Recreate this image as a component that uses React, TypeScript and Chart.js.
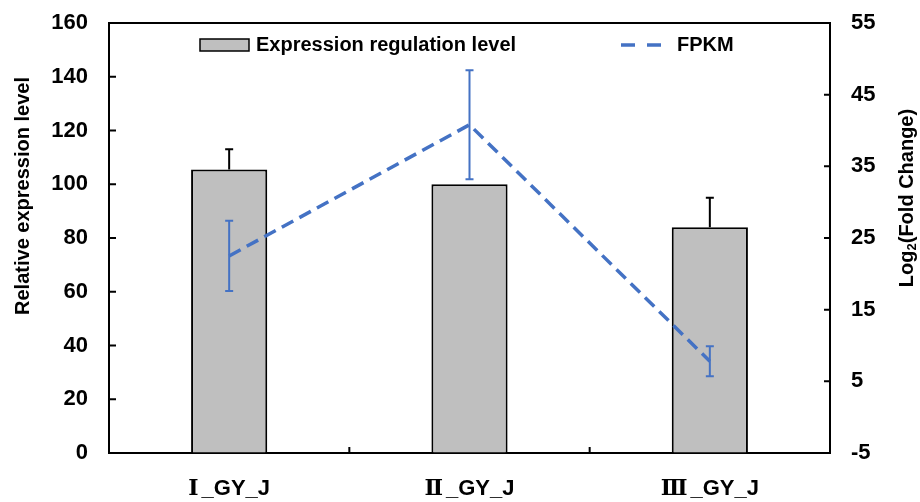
import React, { useEffect, useRef } from 'react';
import { Chart, registerables } from 'chart.js';

Chart.register(...registerables);

const categories = ['Ⅰ_GY_J', 'Ⅱ_GY_J', 'Ⅲ_GY_J'];
const expressionLevel = [105.5, 100, 84];
const expressionErr = [7.5, 0, 11];
const fpkm = [22.5, 40.8, 7.8];
const fpkmErr = [4.9, 7.6, 2.1];
const leftTicks = [0, 20, 40, 60, 80, 100, 120, 140, 160];
const rightTicks = [-5, 5, 15, 25, 35, 45, 55];

const FONT = "'Liberation Sans', Arial, Helvetica, sans-serif";
const SERIF = "'DejaVu Serif', 'Liberation Serif', serif";
const BLUE = '#4472C4';

const decorPlugin = {
  id: 'decor',
  afterDatasetsDraw(chart: any) {
    const ctx = chart.ctx;
    const x = chart.scales.x;
    const y = chart.scales.y;
    const y1 = chart.scales.y1;
    ctx.save();
    ctx.strokeStyle = '#000';
    ctx.lineWidth = 2;
    expressionLevel.forEach((v, i) => {
      const e = expressionErr[i];
      if (!e) return;
      const cx = x.getPixelForValue(i);
      const top = y.getPixelForValue(v + e);
      const base = y.getPixelForValue(v);
      ctx.beginPath();
      ctx.moveTo(cx, base);
      ctx.lineTo(cx, top);
      ctx.moveTo(cx - 4, top);
      ctx.lineTo(cx + 4, top);
      ctx.stroke();
    });
    ctx.strokeStyle = BLUE;
    ctx.lineWidth = 2;
    fpkm.forEach((v, i) => {
      const e = fpkmErr[i];
      const cx = x.getPixelForValue(i);
      const top = y1.getPixelForValue(v + e);
      const bot = y1.getPixelForValue(v - e);
      ctx.beginPath();
      ctx.moveTo(cx, bot);
      ctx.lineTo(cx, top);
      ctx.moveTo(cx - 4, top);
      ctx.lineTo(cx + 4, top);
      ctx.moveTo(cx - 4, bot);
      ctx.lineTo(cx + 4, bot);
      ctx.stroke();
    });
    ctx.restore();
  },
  afterDraw(chart: any) {
    const ctx = chart.ctx;
    const x = chart.scales.x;
    const y = chart.scales.y;
    const y1 = chart.scales.y1;
    const area = chart.chartArea;
    ctx.save();
    ctx.strokeStyle = '#000';
    ctx.lineWidth = 2;
    ctx.beginPath();
    ctx.moveTo(area.left - 1, area.top);
    ctx.lineTo(area.right + 1, area.top);
    ctx.stroke();
    ctx.beginPath();
    leftTicks.forEach((v) => {
      const py = y.getPixelForValue(v);
      ctx.moveTo(area.left, py);
      ctx.lineTo(area.left + 7, py);
    });
    rightTicks.forEach((v) => {
      const py = y1.getPixelForValue(v);
      ctx.moveTo(area.right, py);
      ctx.lineTo(area.right - 6, py);
    });
    for (let i = 1; i < categories.length; i++) {
      const px = (x.getPixelForValue(i - 1) + x.getPixelForValue(i)) / 2;
      ctx.moveTo(px, area.bottom);
      ctx.lineTo(px, area.bottom - 6);
    }
    ctx.stroke();

    // category labels (numeral in serif, rest in sans)
    ctx.fillStyle = '#000';
    ctx.textBaseline = 'middle';
    ctx.textAlign = 'left';
    const numFont = `bold 22px ${SERIF}`;
    const restFont = `bold 22px ${FONT}`;
    categories.forEach((lab, i) => {
      const num = lab.charAt(0);
      const rest = lab.slice(1);
      ctx.font = numFont;
      const wn = ctx.measureText(num).width;
      ctx.font = restFont;
      const wr = ctx.measureText(rest).width;
      const gap = 3;
      let sx = x.getPixelForValue(i) - (wn + gap + wr) / 2;
      ctx.font = numFont;
      ctx.fillText(num, sx, 489);
      sx += wn + gap;
      ctx.font = restFont;
      ctx.fillText(rest, sx, 489);
    });

    // axis titles
    ctx.textAlign = 'center';
    ctx.font = `bold 20px ${FONT}`;
    ctx.save();
    ctx.translate(23, 196);
    ctx.rotate(-Math.PI / 2);
    ctx.fillText('Relative expression level', 0, 0);
    ctx.restore();

    ctx.save();
    ctx.translate(907, 198);
    ctx.rotate(-Math.PI / 2);
    ctx.textAlign = 'left';
    const big = `bold 20px ${FONT}`;
    const small = `bold 13px ${FONT}`;
    ctx.font = big;
    const w1 = ctx.measureText('Log').width;
    const w3 = ctx.measureText('(Fold Change)').width;
    ctx.font = small;
    const w2 = ctx.measureText('2').width;
    let tx = -(w1 + w2 + w3) / 2;
    ctx.font = big;
    ctx.fillText('Log', tx, 0);
    tx += w1;
    ctx.font = small;
    ctx.fillText('2', tx, 5);
    tx += w2;
    ctx.font = big;
    ctx.fillText('(Fold Change)', tx, 0);
    ctx.restore();

    // legend
    ctx.fillStyle = '#BFBFBF';
    ctx.fillRect(200, 39, 49, 12);
    ctx.strokeStyle = '#000';
    ctx.lineWidth = 1.5;
    ctx.strokeRect(200, 39, 49, 12);
    ctx.fillStyle = '#000';
    ctx.font = `bold 20px ${FONT}`;
    ctx.textAlign = 'left';
    ctx.textBaseline = 'middle';
    ctx.fillText('Expression regulation level', 256, 45);

    ctx.strokeStyle = BLUE;
    ctx.lineWidth = 3.5;
    ctx.setLineDash([14, 12]);
    ctx.beginPath();
    ctx.moveTo(621, 45);
    ctx.lineTo(662, 45);
    ctx.stroke();
    ctx.setLineDash([]);
    ctx.fillText('FPKM', 677, 45);
    ctx.restore();
  },
};

export default function App() {
  const ref = useRef<HTMLCanvasElement>(null);
  useEffect(() => {
    if (!ref.current) return;
    const chart = new Chart(ref.current, {
      type: 'bar',
      data: {
        labels: categories,
        datasets: [
          {
            type: 'line',
            label: 'FPKM',
            data: fpkm,
            yAxisID: 'y1',
            borderColor: BLUE,
            borderWidth: 3.5,
            borderDash: [13, 7],
            pointRadius: 0,
            fill: false,
            tension: 0,
            order: 0,
          } as any,
          {
            type: 'bar',
            label: 'Expression regulation level',
            data: expressionLevel,
            yAxisID: 'y',
            backgroundColor: '#BFBFBF',
            borderColor: '#000',
            borderWidth: 2,
            categoryPercentage: 1,
            barPercentage: 0.317,
            order: 1,
          } as any,
        ],
      },
      options: {
        responsive: false,
        animation: false,
        devicePixelRatio: 1,
        layout: { padding: { top: 23, left: 0, right: 0, bottom: 0 } },
        plugins: { legend: { display: false }, tooltip: { enabled: false } },
        scales: {
          x: {
            offset: true,
            grid: { display: true, drawOnChartArea: false, drawTicks: false },
            border: { display: true, color: '#000', width: 2 },
            ticks: { display: false },
            afterFit: (s: any) => { s.height = 49; s.paddingLeft = 0; s.paddingRight = 0; },
          },
          y: {
            position: 'left',
            min: 0,
            max: 160,
            grid: { display: true, drawOnChartArea: false, drawTicks: false },
            border: { display: true, color: '#000', width: 2 },
            ticks: { color: '#000', font: { family: FONT, size: 22, weight: 'bold' }, padding: 21 },
            afterBuildTicks: (s: any) => { s.ticks = leftTicks.map((v) => ({ value: v })); },
            afterFit: (s: any) => { s.width = 109; s.paddingTop = 0; s.paddingBottom = 0; },
          },
          y1: {
            position: 'right',
            min: -5,
            max: 55,
            grid: { display: true, drawOnChartArea: false, drawTicks: false },
            border: { display: true, color: '#000', width: 2 },
            ticks: { color: '#000', font: { family: FONT, size: 22, weight: 'bold' }, padding: 21 },
            afterBuildTicks: (s: any) => { s.ticks = rightTicks.map((v) => ({ value: v })); },
            afterFit: (s: any) => { s.width = 90; s.paddingTop = 0; s.paddingBottom = 0; },
          },
        },
      } as any,
      plugins: [decorPlugin],
    });
    return () => chart.destroy();
  }, []);
  return (
    <div style={{ position: 'absolute', left: 0, top: 0, width: 920, height: 502, background: '#fff' }}>
      <canvas ref={ref} width={920} height={502} />
    </div>
  );
}
